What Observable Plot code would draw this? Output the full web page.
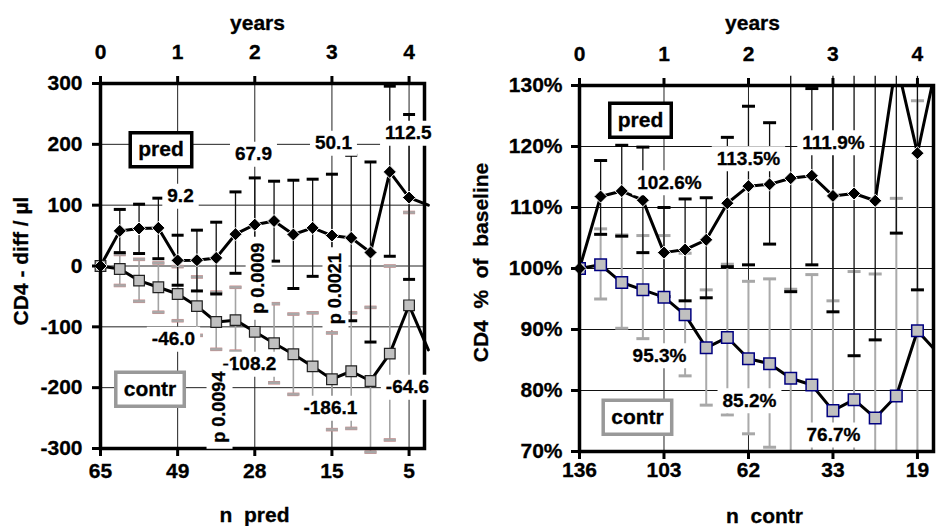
<!DOCTYPE html>
<html><head><meta charset="utf-8">
<script src="https://cdn.jsdelivr.net/npm/d3@7"></script>
<script src="https://cdn.jsdelivr.net/npm/@observablehq/plot@0.6"></script>
<style>
body{margin:0;background:#fff;}
#wrap{display:flex;width:936px;height:526px;overflow:hidden;}
svg text{stroke:black;stroke-width:0.3px;}
</style></head><body><div id="wrap"></div>
<script>
// ---------- data ----------
const years = [0,0.25,0.5,0.75,1,1.25,1.5,1.75,2,2.25,2.5,2.75,3,3.25,3.5,3.75,4,4.25];
const yearTicks = [0,1,2,3,4];
const nPred = [65,49,28,15,5];
const nContr = [136,103,62,33,19];

// left panel: CD4 difference from baseline (cells/µl)
const predDiff   = [0,57.7,61.6,62.6,9.2,9.5,13.3,52.3,67.9,74,51.8,62.6,50.1,46.2,22.2,154.7,112.5,100];
const predDiffHi = [null,93,101.6,111.5,50.6,58.9,72,121.8,144.8,139.4,141,142.7,150.9,182,171,295.6,249];
const predDiffLo = [null,22,20.5,12,-31.6,-41,-46,-12,-25,8,-37,-17,-40,-90,-125,16,-22];
const contrDiff   = [0,-5,-24,-35,-46.0,-66,-92,-89,-108.2,-127,-145,-165,-186.1,-173,-189,-144,-64.6,-138];
const contrDiffHi = [null,19,11,5,-1,-18,-43,-35,-50,-62,-79,-77,-110,-77,-68,0,88];
const contrDiffLo = [null,-32,-58,-76,-90,-114,-137,-140,-165,-192,-211,-250,-269,-267,-306,-286,-215];
const diffTicks = [-300,-200,-100,0,100,200,300];

// right panel: CD4 % of baseline
const predPct   = [100,111.8,112.7,111.2,102.6,103.1,104.7,110.7,113.5,113.8,114.8,115.2,111.9,112.3,111.1,134,118.9,135];
const predPctHi = [null,117.7,120.2,119.9,110.0,111.4,111.6,121.5,126.6,123.9,131.5,129.5,131.5,131.5,131.5,131.5,131.5];
const predPctLo = [null,105.6,105.3,102.6,95.4,94.7,95.2,100.3,100.6,104.0,96.2,100.6,92.9,85.7,88.3,105.8,96.5];
const contrPct   = [100,100.6,97.7,96.5,95.3,92.4,87.0,88.7,85.2,84.4,82.0,80.9,76.7,78.5,75.5,79.1,89.8,86];
const contrPctHi = [null,106.5,105.5,105.4,105.4,102.5,96.5,100.7,97.9,98.3,96.6,99.0,94.7,99.5,99.1,111.5,127.5];
const contrPctLo = [null,95.0,90.2,88.5,84.5,82.4,77.6,76,72.9,70.7,70,70,70,70,70,70,70];
const pctTicks = [70,80,90,100,110,120,130];

// annotations (anchor in data units)
const leftValueLabels = [
  {label:"9.2",x:1.037,y:114.7},{label:"67.9",x:1.983,y:183.8},{label:"50.1",x:3.02,y:201.9},{label:"112.5",x:3.99,y:218.3},
  {label:"-46.0",x:0.946,y:-120.3},{label:"-108.2",x:1.93,y:-161.4},{label:"-186.1",x:2.98,y:-233.8},{label:"-64.6",x:3.98,y:-199.2}
];
const leftPLabels = [
  {label:"p 0.0009",x:2.05,y:-20},{label:"p 0.0021",x:3.046,y:-37.3},{label:"p 0.0094",x:1.543,y:-232}
];
const leftBoxes = [{label:"pred",x:0.784,y:191.2},{label:"contr",x:0.642,y:-202.5}];
const rightValueLabels = [
  {label:"102.6%",x:1.065,y:114.05},{label:"113.5%",x:2.0,y:118.0},{label:"111.9%",x:3.006,y:120.6},
  {label:"95.3%",x:0.947,y:85.7},{label:"85.2%",x:2.012,y:78.3},{label:"76.7%",x:3.006,y:72.7}
];
const rightBoxes = [{label:"pred",x:0.722,y:124.3},{label:"contr",x:0.686,y:75.6}];

// ---------- helpers ----------
const FONT = "'Liberation Sans', Arial, Helvetica, sans-serif";
const cv = document.createElement("canvas").getContext("2d");
function measure(s, size){ cv.font = `bold ${size}px ${FONT}`; return cv.measureText(s).width; }
function rectSym(w,h){ return {draw(c){ c.moveTo(-w/2,-h/2); c.lineTo(w/2,-h/2); c.lineTo(w/2,h/2); c.lineTo(-w/2,h/2); c.closePath(); }}; }
const capSym = {draw(c,size){ const w = Math.sqrt(size/Math.PI); c.moveTo(-w,0); c.lineTo(w,0); }};

function rows(v, lo, hi){ return years.map((t,i)=>({t, v:v[i], lo: lo[i] ?? null, hi: hi[i] ?? null})); }

function valueLabelMarks(list, size){
  const m = [];
  for (const d of list){
    const w = measure(d.label,size)+10, h = size+6;
    m.push(Plot.dot([d],{x:"x",y:"y",r:1,symbol:rectSym(w,h),fill:"white",stroke:"none"}));
    m.push(Plot.text([d],{x:"x",y:"y",text:"label",fontSize:size,fill:"black"}));
  }
  return m;
}
function pLabelMarks(list, size){
  const m = [];
  for (const d of list){
    const w = measure(d.label,size)+12, h = size+8;
    m.push(Plot.dot([d],{x:"x",y:"y",r:1,symbol:rectSym(h,w),fill:"white",stroke:"none"}));
    m.push(Plot.text([d],{x:"x",y:"y",text:"label",fontSize:size,rotate:-90,fill:"black"}));
  }
  return m;
}
function boxMarks(list, colors, size){
  const m = [];
  list.forEach((d,i)=>{
    const w = measure(d.label,size)+16, h = 34;
    m.push(Plot.dot([d],{x:"x",y:"y",r:1,symbol:rectSym(w,h),fill:"white",stroke:colors[i],strokeWidth:3.5}));
    m.push(Plot.text([d],{x:"x",y:"y",text:"label",fontSize:size,fill:"black"}));
  });
  return m;
}

const baseStyle = {fontFamily: FONT, fontSize:"21px", fontWeight:"bold", color:"black", background:"white", overflow:"visible"};

// ---------- left panel ----------
const pL = rows(predDiff, predDiffLo, predDiffHi);
const cL = rows(contrDiff, contrDiffLo, contrDiffHi);
const pLe = pL.filter(d=>d.lo!=null), cLe = cL.filter(d=>d.lo!=null);

const left = Plot.plot({
  width:468, height:526,
  marginLeft:100, marginRight:44, marginTop:83, marginBottom:78,
  x:{domain:[0,4.2], axis:null},
  y:{domain:[-300,300], axis:null},
  style: baseStyle,
  marks:[
    Plot.ruleY(diffTicks.filter(d=>d>-300&&d<300),{stroke:"#222",strokeWidth:1}),
    Plot.ruleX(yearTicks.filter(d=>d>0),{stroke:"#222",strokeWidth:1}),
    // contr error bars
    Plot.ruleX(cLe,{x:"t",y1:"lo",y2:"hi",stroke:"#a3a3a3",strokeWidth:1.6}),
    Plot.dot(cLe,{x:"t",y:"hi",r:6,symbol:capSym,fill:"none",stroke:"#c98f8f",strokeWidth:3.6}),
    Plot.dot(cLe,{x:"t",y:"lo",r:6,symbol:capSym,fill:"none",stroke:"#c98f8f",strokeWidth:3.6}),
    Plot.dot(cLe,{x:"t",y:"hi",r:6,symbol:capSym,fill:"none",stroke:"#a8a8a8",strokeWidth:2.4}),
    Plot.dot(cLe,{x:"t",y:"lo",r:6,symbol:capSym,fill:"none",stroke:"#a8a8a8",strokeWidth:2.4}),
    // pred error bars
    Plot.ruleX(pLe,{x:"t",y1:"lo",y2:"hi",stroke:"#111",strokeWidth:1.3}),
    Plot.dot(pLe,{x:"t",y:"hi",r:6,symbol:capSym,fill:"none",stroke:"black",strokeWidth:3}),
    Plot.dot(pLe,{x:"t",y:"lo",r:6,symbol:capSym,fill:"none",stroke:"black",strokeWidth:3}),
    // lines
    Plot.line(cL,{x:"t",y:"v",stroke:"black",strokeWidth:3}),
    Plot.line(pL,{x:"t",y:"v",stroke:"black",strokeWidth:3}),
    Plot.dot(cL.filter(d=>d.t<=4),{x:"t",y:"v",symbol:"square",r:6,fill:"#c0c0c0",stroke:"#222",strokeWidth:1.2}),
    Plot.dot(pL.filter(d=>d.t<=4),{x:"t",y:"v",symbol:"diamond2",r:5.9,fill:"black",stroke:"white",strokeWidth:1}),
    Plot.frame({stroke:"black",strokeWidth:3.5}),
    ...valueLabelMarks(leftValueLabels,19),
    ...pLabelMarks(leftPLabels,18),
    ...boxMarks(leftBoxes,["black","#999"],21),
    Plot.axisY({ticks:diffTicks,tickFormat:d=>String(d),tickSize:8,tickPadding:10,strokeWidth:3,label:null}),
    Plot.axisX({anchor:"top",ticks:yearTicks,tickFormat:d=>String(d),tickSize:8,tickPadding:17,strokeWidth:3,label:null}),
    Plot.axisX({anchor:"bottom",ticks:yearTicks,tickFormat:d=>String(nPred[yearTicks.indexOf(d)]),tickSize:8,tickPadding:7,strokeWidth:3,label:null}),
    Plot.text(["years"],{frameAnchor:"top",dy:-54,dx:-5,textAnchor:"middle",lineAnchor:"bottom",fontSize:21}),
    Plot.text(["n\u00a0 pred"],{frameAnchor:"bottom",dy:73,dx:-8,textAnchor:"middle",lineAnchor:"bottom",fontSize:21}),
    Plot.text(["CD4 - diff / µl"],{frameAnchor:"left",dx:-79,dy:-5,rotate:-90,textAnchor:"middle",lineAnchor:"middle",fontSize:21})
  ]
});

// ---------- right panel ----------
const pR = rows(predPct, predPctLo, predPctHi);
const cR = rows(contrPct, contrPctLo, contrPctHi);
const pRe = pR.filter(d=>d.lo!=null), cRe = cR.filter(d=>d.lo!=null);

const right = Plot.plot({
  width:468, height:526,
  marginLeft:111, marginRight:3, marginTop:85, marginBottom:75,
  x:{domain:[0,4.19], axis:null},
  y:{domain:[70,130], axis:null},
  style: baseStyle,
  marks:[
    Plot.ruleY(pctTicks.filter(d=>d>70&&d<130),{stroke:"#111",strokeWidth:1}),
    Plot.ruleX(yearTicks.filter(d=>d>0),{stroke:"#222",strokeWidth:1}),
    Plot.ruleX(cRe,{x:"t",y1:"lo",y2:"hi",stroke:"#aaaaaa",strokeWidth:2}),
    Plot.dot(cRe.filter(d=>d.hi<130),{x:"t",y:"hi",r:6.5,symbol:capSym,fill:"none",stroke:"#a8a8a8",strokeWidth:3}),
    Plot.dot(cRe.filter(d=>d.lo>70),{x:"t",y:"lo",r:6.5,symbol:capSym,fill:"none",stroke:"#a8a8a8",strokeWidth:3}),
    Plot.ruleX(pRe,{x:"t",y1:"lo",y2:"hi",stroke:"#111",strokeWidth:1.3}),
    Plot.dot(pRe.filter(d=>d.hi<130),{x:"t",y:"hi",r:6.5,symbol:capSym,fill:"none",stroke:"black",strokeWidth:3}),
    Plot.dot(pRe.filter(d=>d.lo>70),{x:"t",y:"lo",r:6.5,symbol:capSym,fill:"none",stroke:"black",strokeWidth:3}),
    Plot.line(cR,{x:"t",y:"v",stroke:"black",strokeWidth:3,clip:true}),
    Plot.line(pR,{x:"t",y:"v",stroke:"black",strokeWidth:3,clip:true}),
    Plot.dot(cR.filter(d=>d.t<=4),{x:"t",y:"v",symbol:"square",r:6.5,fill:"#c0c0c0",stroke:"#000080",strokeWidth:1.5,clip:true}),
    Plot.dot(pR.filter(d=>d.t<=4 && d.v<=130),{x:"t",y:"v",symbol:"diamond2",r:5.9,fill:"black",stroke:"white",strokeWidth:1}),
    Plot.frame({stroke:"black",strokeWidth:3.5}),
    ...valueLabelMarks(rightValueLabels,19),
    ...boxMarks(rightBoxes,["black","#999"],21),
    Plot.axisY({ticks:pctTicks,tickFormat:d=>d+"%",tickSize:8,tickPadding:9,strokeWidth:3,label:null}),
    Plot.axisX({anchor:"top",ticks:yearTicks,tickFormat:d=>String(d),tickSize:8,tickPadding:17,strokeWidth:3,label:null}),
    Plot.axisX({anchor:"bottom",ticks:yearTicks,tickFormat:d=>String(nContr[yearTicks.indexOf(d)]),tickSize:8,tickPadding:3,strokeWidth:3,label:null}),
    Plot.text(["years"],{frameAnchor:"top",dy:-56,dx:-4,textAnchor:"middle",lineAnchor:"bottom",fontSize:21}),
    Plot.text(["n\u00a0 contr"],{frameAnchor:"bottom",dy:71,dx:8,textAnchor:"middle",lineAnchor:"bottom",fontSize:21}),
    Plot.text(["CD4 \u00a0% \u00a0of \u00a0baseline"],{frameAnchor:"left",dx:-98,dy:-6,rotate:-90,textAnchor:"middle",lineAnchor:"middle",fontSize:21})
  ]
});

document.getElementById("wrap").append(left, right);
</script>
</body></html>
